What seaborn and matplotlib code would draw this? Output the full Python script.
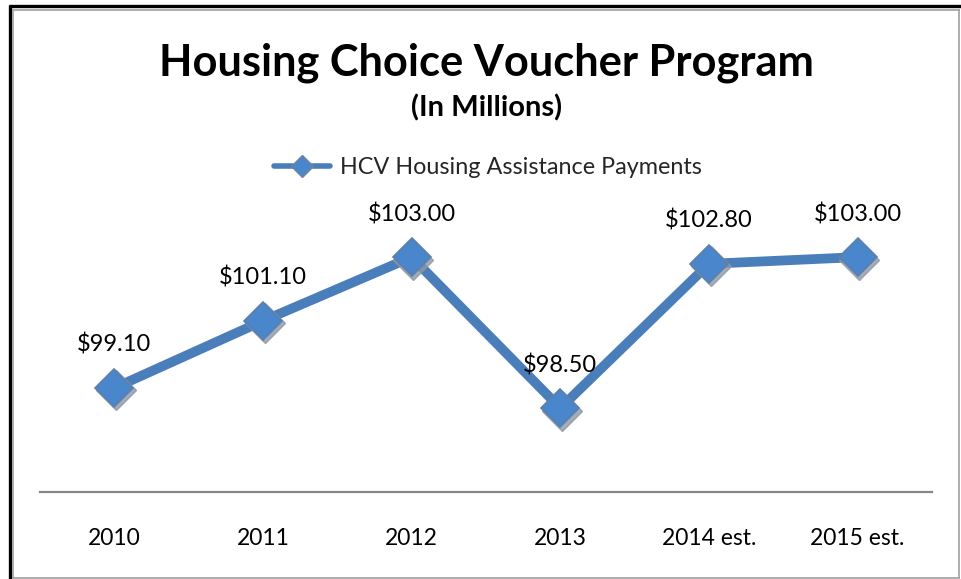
import matplotlib
matplotlib.use("Agg")
import matplotlib.pyplot as plt
from matplotlib.lines import Line2D
import matplotlib.transforms as mtransforms
import seaborn as sns
import pandas as pd

years = ["2010", "2011", "2012", "2013", "2014 est.", "2015 est."]
payments = [99.10, 101.10, 103.00, 98.50, 102.80, 103.00]
series_name = "HCV Housing Assistance Payments"
title = "Housing Choice Voucher Program"
subtitle = "(In Millions)"

sns.set_theme(style="white")
plt.rcParams["font.family"] = ["Lato", "DejaVu Sans"]

df = pd.DataFrame({"year": years, "value": payments, "series": series_name})

W, H = 962, 579
fig = plt.figure(figsize=(W / 100, H / 100), dpi=100)
fig.patch.set_facecolor("white")
ax = fig.add_axes([40 / W, (H - 492) / H, (932 - 40) / W, (492 - 190) / H])

color = "#4A7EBB"
sns.lineplot(data=df, x="year", y="value", hue="series", palette=[color],
             sort=False, ax=ax, linewidth=7, legend=False)

# marker shadow
shadow = mtransforms.offset_copy(ax.transData, fig=fig, x=1.2, y=-1.8, units="points")
ax.plot(range(len(years)), payments, linestyle="none", marker="D", markersize=20,
        color="#8C97A8", alpha=0.8, transform=shadow, zorder=3)
ax.plot(range(len(years)), payments, linestyle="none", marker="D", markersize=19,
        markerfacecolor="#4A86CC", markeredgecolor="#5D7FA8", markeredgewidth=1.2,
        zorder=4)

ax.set_xlim(-0.5, len(years) - 0.5)
ax.set_ylim(96, 105)
ax.set_xlabel("")
ax.set_ylabel("")
ax.set_yticks([])
for s in ["top", "right", "left"]:
    ax.spines[s].set_visible(False)
ax.spines["bottom"].set_color("#868686")
ax.spines["bottom"].set_linewidth(1.6)
ax.tick_params(axis="x", length=0, pad=26, labelsize=16.5, colors="black")
ax.set_facecolor("white")

for i, v in enumerate(payments):
    ax.annotate(f"${v:,.2f}", (i, v), xytext=(0, 31), textcoords="offset points",
                ha="center", va="center", fontsize=17, color="black", zorder=5)

handle = Line2D([], [], color=color, linewidth=4, marker="D", markersize=11,
                markerfacecolor="#4A86CC", markeredgecolor="#6F829E", markeredgewidth=1)
fig.legend([handle], [series_name], loc="center", bbox_to_anchor=(488 / W, 1 - 168 / H),
           frameon=False, fontsize=16.8, handlelength=2.4, handletextpad=0.4)

fig.text(486 / W, 1 - 63 / H, title, ha="center", va="center", fontsize=31.2,
         fontweight="bold", color="black")
fig.text(487 / W, 1 - 108 / H, subtitle, ha="center", va="center", fontsize=21,
         fontweight="bold", color="black")

# frame
def px_line(x0, y0, x1, y1, c, lw):
    fig.add_artist(Line2D([x0 / W, x1 / W], [1 - y0 / H, 1 - y1 / H],
                          transform=fig.transFigure, color=c, linewidth=lw,
                          solid_capstyle="butt"))

px_line(10, 5, 10, H, "black", 2.4)
px_line(9, 6, W, 6, "black", 2.4)
px_line(12.5, 9, 12.5, 577.5, "#A0A0A0", 1.2)
px_line(12, 9.5, 960, 9.5, "#A0A0A0", 1.2)
px_line(959.5, 9, 959.5, 577.5, "#A0A0A0", 1.2)
px_line(12, 577.5, 960, 577.5, "#A0A0A0", 1.2)

fig.savefig("out.png", dpi=100)
